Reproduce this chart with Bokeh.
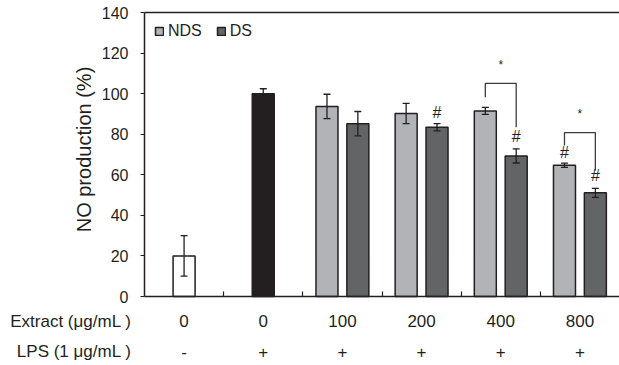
import math
from bokeh.plotting import figure
from bokeh.models import (ColumnDataSource, Whisker, TeeHead, FixedTicker,
                          LinearAxis, Legend, Range1d)
from bokeh.embed import file_html
from bokeh.resources import INLINE

# ---- data ----
extract_labels = ["0", "0", "100", "200", "400", "800"]
lps_labels = ["-", "+", "+", "+", "+", "+"]
ctrl_vals = [20.0, 100.0]
ctrl_err = [10.0, 2.4]
nds_vals = [93.7, 90.2, 91.5, 64.7]
nds_err = [6.0, 5.0, 1.7, 1.0]
ds_vals = [85.2, 83.4, 69.3, 51.1]
ds_err = [6.0, 1.8, 3.5, 2.2]
y_ticks = [0, 20, 40, 60, 80, 100, 120, 140]
hash_series = ["DS", "DS", "NDS", "DS"]
hash_group = [3, 4, 5, 5]
hash_y = [90.8, 78.9, 71.1, 59.6]
bracket_group = [4, 5]
bracket_left = [98.2, 74.4]
bracket_top = [105.1, 80.8]
bracket_right = [83.4, 62.1]
star_y = [113.9, 90.0]

FONT = "Liberation Sans"
INK = "#231f20"
NDS_C = "#b2b3b6"
DS_C = "#636466"
BAR_W = 0.278
OFF = 0.195
Y_MAX = 140

# layout (pixels)
W, H = 619, 365
AX_LEFT, AX_BOTTOM, AX_TOP = 144, 296, 12
n_groups = len(extract_labels)
gw = (W - AX_LEFT) / n_groups              # px per group
py = (AX_BOTTOM - AX_TOP) / Y_MAX          # px per unit

x0 = -AX_LEFT / gw
y0 = -(H - AX_BOTTOM) / py
y1 = AX_BOTTOM / py
ROW1_Y = -(320 - AX_BOTTOM) / py
ROW2_Y = -(351 - AX_BOTTOM) / py
TITLE_X = -(AX_LEFT - 131) / gw
YLAB_X = -(AX_LEFT - 83) / gw
YLAB_Y = (AX_BOTTOM - 149) / py

centers = [g + 0.5 for g in range(n_groups)]
treated = centers[2:]

p = figure(width=W, height=H, x_range=Range1d(x0, n_groups), y_range=Range1d(y0, y1),
           output_backend="svg", toolbar_location=None,
           x_axis_location=None, y_axis_location=None,
           min_border=0, min_border_left=0, min_border_right=0,
           min_border_top=0, min_border_bottom=0)
p.xgrid.visible = False
p.ygrid.visible = False
p.outline_line_color = None
p.background_fill_color = "white"
p.border_fill_color = "white"

yax = LinearAxis(fixed_location=0, bounds=(0, Y_MAX), ticker=FixedTicker(ticks=y_ticks))
yax.minor_tick_line_color = None
yax.major_tick_in = 0
yax.major_tick_out = 4
yax.major_label_standoff = 12
yax.major_label_text_font = FONT
yax.major_label_text_font_size = "16px"
yax.major_label_text_color = INK
yax.axis_line_width = 1.5
yax.axis_line_color = INK
yax.major_tick_line_color = INK
yax.major_tick_line_width = 1.2
p.add_layout(yax, "left")

xax = LinearAxis(fixed_location=0, bounds=(0, n_groups),
                 ticker=FixedTicker(ticks=list(range(1, n_groups))))
xax.minor_tick_line_color = None
xax.major_tick_in = 5
xax.major_tick_out = 0
xax.major_label_text_font_size = "0px"
xax.axis_line_width = 1.5
xax.axis_line_color = INK
xax.major_tick_line_color = INK
xax.major_tick_line_width = 1.2
p.add_layout(xax, "below")

tax = LinearAxis(fixed_location=Y_MAX, bounds=(0, n_groups), ticker=FixedTicker(ticks=[]))
tax.minor_tick_line_color = None
tax.major_tick_line_color = None
tax.major_label_text_font_size = "0px"
tax.axis_line_width = 1.5
tax.axis_line_color = INK
p.add_layout(tax, "above")

# bars
ctrl_src = ColumnDataSource(dict(x=centers[:2], top=ctrl_vals,
                                 lo=[v - e for v, e in zip(ctrl_vals, ctrl_err)],
                                 hi=[v + e for v, e in zip(ctrl_vals, ctrl_err)],
                                 c=["white", INK]))
p.vbar(x="x", top="top", width=BAR_W, bottom=0, fill_color="c",
       line_color=INK, line_width=1.5, source=ctrl_src)

nds_src = ColumnDataSource(dict(x=[c - OFF for c in treated], top=nds_vals,
                                lo=[v - e for v, e in zip(nds_vals, nds_err)],
                                hi=[v + e for v, e in zip(nds_vals, nds_err)]))
ds_src = ColumnDataSource(dict(x=[c + OFF for c in treated], top=ds_vals,
                               lo=[v - e for v, e in zip(ds_vals, ds_err)],
                               hi=[v + e for v, e in zip(ds_vals, ds_err)]))
r_nds = p.vbar(x="x", top="top", width=BAR_W, bottom=0, fill_color=NDS_C,
               line_color=INK, line_width=1.5, source=nds_src)
r_ds = p.vbar(x="x", top="top", width=BAR_W, bottom=0, fill_color=DS_C,
              line_color=INK, line_width=1.5, source=ds_src)

for src in (ctrl_src, nds_src, ds_src):
    w = Whisker(base="x", lower="lo", upper="hi", source=src, level="overlay",
                line_color=INK, line_width=1.3,
                lower_head=TeeHead(size=7, line_color=INK, line_width=1.3),
                upper_head=TeeHead(size=7, line_color=INK, line_width=1.3))
    p.add_layout(w)

# significance brackets
xs, ys = [], []
for g, l, t, r in zip(bracket_group, bracket_left, bracket_top, bracket_right):
    c = centers[g]
    xs.append([c - OFF, c - OFF, c + OFF, c + OFF])
    ys.append([l, t, t, r])
p.multi_line(xs=xs, ys=ys, line_color="#3c3c3c", line_width=1.3)
p.text(x=[centers[g] for g in bracket_group], y=star_y, text=["*"] * len(star_y),
       text_align="center", text_baseline="middle", text_font_size="12px",
       text_font={"value": FONT}, text_color=INK)

hx = [centers[g] + (OFF if s == "DS" else -OFF) for s, g in zip(hash_series, hash_group)]
p.text(x=hx, y=hash_y, text=["#"] * len(hash_y), text_align="center",
       text_baseline="middle", text_font_size="16px",
       text_font={"value": FONT}, text_color=INK)

# rows of labels under the axis
p.text(x=centers + centers, y=[ROW1_Y] * n_groups + [ROW2_Y] * n_groups,
       text=extract_labels + lps_labels, text_align="center", text_baseline="middle",
       text_font_size="17px", text_font={"value": FONT}, text_color=INK)
p.text(x=[TITLE_X, TITLE_X], y=[ROW1_Y - 0.6, ROW2_Y],
       text=["Extract (\u03bcg/mL )", "LPS (1 \u03bcg/mL )"],
       text_align="right", text_baseline="middle", text_font_size="17px",
       text_font={"value": FONT}, text_color=INK)

# y axis title
p.text(x=[YLAB_X], y=[YLAB_Y], text=["NO production (%)"], angle=math.pi / 2,
       text_align="center", text_baseline="middle", text_font_size="20px",
       text_font={"value": FONT}, text_color=INK)

legend = Legend(items=[("NDS", [r_nds]), ("DS", [r_ds])], location=(154, H - 40),
                orientation="horizontal", border_line_color=None,
                background_fill_alpha=0, margin=0, padding=0, spacing=14,
                glyph_width=10, glyph_height=10, label_standoff=4,
                label_text_font=FONT, label_text_font_size="16px",
                label_text_color=INK, label_height=12)
p.add_layout(legend)

open("out.html", "w").write(file_html(p, INLINE))
